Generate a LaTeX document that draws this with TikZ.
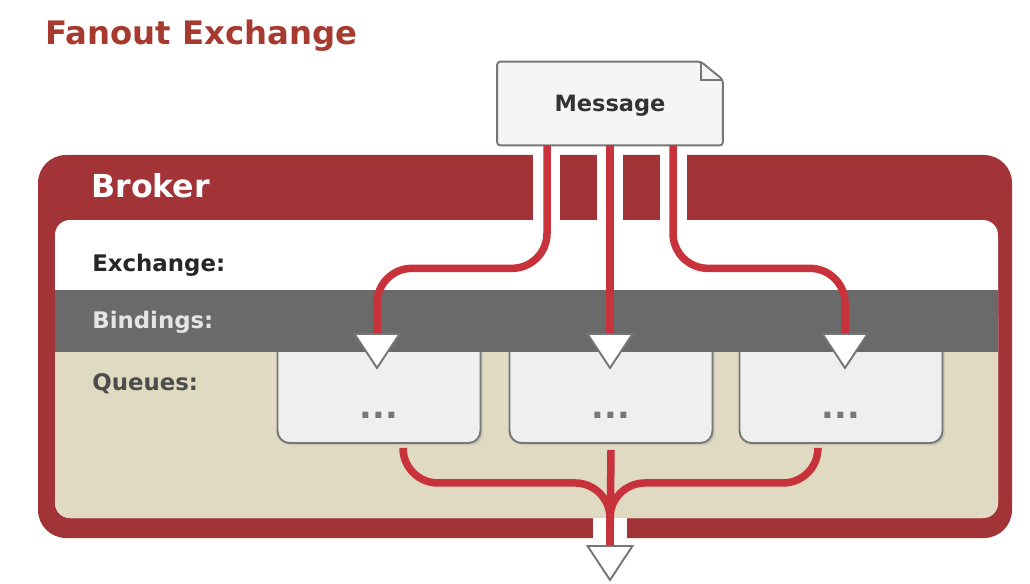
\documentclass[tikz,border=0pt]{standalone}
\usepackage{fontspec}
\setmainfont{DejaVu Sans}
\usetikzlibrary{shapes.geometric,calc,shadows,backgrounds}
\definecolor{titlered}{HTML}{A63A2E}
\definecolor{brokerred}{HTML}{A23336}
\definecolor{wirered}{HTML}{C8323A}
\definecolor{bandgray}{HTML}{6A6A6A}
\definecolor{queuebeige}{HTML}{DFDAC1}
\definecolor{boxgray}{HTML}{EFEFEF}
\definecolor{edgegray}{HTML}{767676}
\definecolor{msgfill}{HTML}{F4F5F5}

\begin{document}
\begin{tikzpicture}[x=0.02cm,y=-0.02cm,
    lbl/.style={anchor=base west,inner sep=0,font=\fontsize{13}{15}\selectfont\bfseries},
    queue/.style={draw=edgegray,fill=boxgray,line width=1.1pt,rounded corners=0.24cm,minimum width=4.06cm,inner sep=0,
      text height=1.67cm,text depth=0.49cm,anchor=base,text=edgegray,font=\fontsize{19}{22}\selectfont\bfseries,
      drop shadow={shadow xshift=0.05cm,shadow yshift=-0.05cm,opacity=.2}},
    tri/.style={isosceles triangle,shape border rotate=270,isosceles triangle stretches,minimum width=0.9cm,minimum height=0.68cm,
      inner sep=0,anchor=north,fill=white,draw=edgegray,line width=1.1pt},
    wire/.style={draw=wirered,line width=0.15cm,rounded corners=0.7cm},
    gap/.style={fill=white}]
  \useasboundingbox (0,0) rectangle (1030,584);
  \node[anchor=base west,inner sep=0,text=titlered,font=\fontsize{18.4}{22}\selectfont\bfseries] (title) at (45,45) {Fanout Exchange};
  % broker frame and bands
  \fill[brokerred,rounded corners=0.56cm] (38,155) rectangle (1012,538);
  \fill[white,rounded corners=0.3cm] (55,220) rectangle (998,518);
  \fill[queuebeige,rounded corners=0.3cm] (55,300) rectangle (998,518);
  \foreach \x/\w in {533/27,597/26,660/27} \fill[gap] (\x,150) rectangle ++(\w,72);
  \fill[gap] (593,518) rectangle (627,540);
  \node[queue] (q1) at (379,418.5) {...};
  \node[queue] (q2) at (611,418.5) {...};
  \node[queue] (q3) at (841,418.5) {...};
  \fill[bandgray] (55,290) rectangle (998,352);
  \node[lbl,text=white,font=\fontsize{18}{22}\selectfont\bfseries] (broker) at (91,197) {Broker};
  \node[lbl,text=black!85] (exch) at (92,271) {Exchange:};
  \node[lbl,text=black!10] (bind) at (92,328) {Bindings:};
  \node[lbl,text=black!70] (queues) at (92,390) {Queues:};
  % message
  \node[inner sep=0,minimum width=4.5cm,minimum height=1.66cm,text depth=0pt,text=black!80,font=\fontsize{12.8}{15}\selectfont\bfseries] (msg) at (610,103.5) {Message};
  \begin{scope}[on background layer]
    \filldraw[fill=msgfill,draw=edgegray,line width=1.1pt,rounded corners=0.06cm] (msg.south west) -- (msg.north west)
      -- ($(msg.north east)+(-22,0)$) -- ($(msg.north east)+(0,18)$) -- (msg.south east) -- cycle;
    \draw[edgegray,line width=1.1pt] ($(msg.north east)+(-22,0)$) -- ++(0,18) -- ($(msg.north east)+(0,18)$);
  \end{scope}
  \node[tri] (t1) at (377,333) {};
  \node[tri] (t2) at (610,333) {};
  \node[tri] (t3) at (845,333) {};
  \node[tri] (tout) at (610,545) {};
  % wires
  \draw[wire] ($(msg.south)+(-63,0)$) -- ++(0,123) -| (t1.north);
  \draw[wire] (msg.south) -- (t2.north);
  \draw[wire] ($(msg.south)+(63,0)$) -- ++(0,123) -| (t3.north);
  \draw[wire] ($(q1.south)+(24,4)$) -- ++(0,35) -| (tout.north);
  \draw[wire] ($(q2.south)+(0,6)$) -- (tout.north);
  \draw[wire] ($(q3.south)+(-23,4)$) -- ++(0,35) -| (tout.north);
\end{tikzpicture}
\end{document}
